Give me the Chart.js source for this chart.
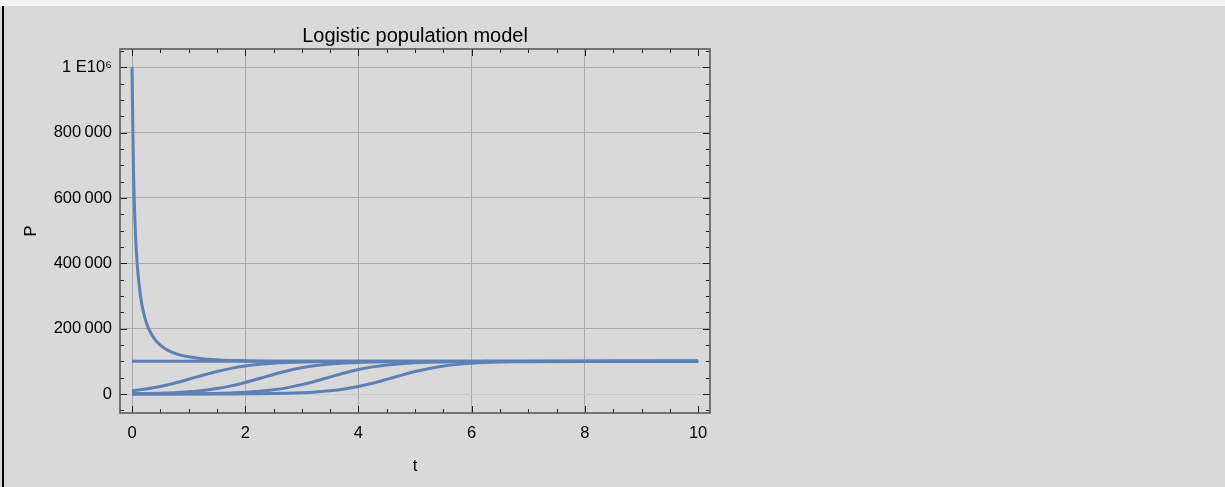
<!DOCTYPE html>
<html>
<head>
<meta charset="utf-8">
<script src="https://cdn.jsdelivr.net/npm/chart.js@4/dist/chart.umd.min.js"></script>
<style>
    body { margin: 0; background: #d9d9d9; }
    #strip { position: absolute; left: 0; top: 0; width: 1225px; height: 6px; background: #f5f5f5; }
    #edge { position: absolute; left: 2px; top: 6px; width: 2px; height: 481px; background: #000; }
    #wrap { position: absolute; left: 0; top: 0; width: 1225px; height: 487px; }
</style>
</head>
<body>
<div id="strip"></div>
<div id="edge"></div>
<div id="wrap"><canvas id="logisticChart" width="1225" height="487"></canvas></div>
<script>
const chartTitle = 'Logistic population model';
const xTitle = 't';
const yTitle = 'P';

const xTickValues = [0, 2, 4, 6, 8, 10];
const xTickLabels = ['0', '2', '4', '6', '8', '10'];
const yTickValues = [0, 200000, 400000, 600000, 800000, 1000000];
const yTickLabels = ['0', '200\u2009000', '400\u2009000', '600\u2009000', '800\u2009000', '1 E10\u2076'];

// P0 = 1e6, falls to the carrying capacity
const tDecay = [0, 0.025, 0.05, 0.075, 0.1, 0.15, 0.2, 0.25, 0.3, 0.4, 0.5, 0.6, 0.7, 0.8, 1, 1.2, 1.4, 1.6, 1.8, 2, 2.25, 2.5, 2.75, 3, 3.5, 4, 5, 10];
const pDecay = [1000000, 694950, 538660, 443730, 380020, 300060, 252070, 220210, 197600, 167900, 149500, 137190, 128520, 122210, 113870, 108890, 105790, 103810, 102520, 101680, 101010, 100610, 100370, 100220, 100080, 100030, 100000, 100000];

// P0 = K
const tCarrying = [0, 10];
const pCarrying = [100000, 100000];

// growing curves share one time grid
const tGrowth = [0, 0.25, 0.5, 0.75, 1, 1.25, 1.5, 1.75, 2, 2.25, 2.5, 2.75, 3, 3.25, 3.5, 3.75, 4, 4.25, 4.5, 4.75, 5, 5.25, 5.5, 5.75, 6, 6.25, 6.5, 6.75, 7, 8, 9, 10];
const p10000 = [10000, 15483, 23197, 33243, 45085, 57512, 69057, 78630, 85849, 90911, 94282, 96452, 97818, 98665, 99186, 99505, 99699, 99818, 99889, 99933, 99959, 99975, 99985, 99991, 99994, 99996, 99998, 99999, 99999, 100000, 100000, 100000];
const p1000 = [1000, 1638, 2672, 4331, 6945, 10957, 16866, 25066, 35546, 47624, 59986, 71194, 80294, 87048, 91719, 94810, 96790, 98030, 98797, 99264, 99552, 99728, 99835, 99900, 99939, 99963, 99978, 99986, 99992, 99999, 100000, 100000];
const p100 = [100, 165, 271, 447, 734, 1205, 1971, 3209, 5182, 8266, 12935, 19674, 28765, 39976, 52326, 64414, 74925, 83140, 89057, 93038, 95661, 97326, 98359, 99001, 99390, 99629, 99775, 99863, 99917, 99989, 99998, 100000];
const p10 = [10, 16.5, 27.2, 44.8, 73.9, 121.7, 200.5, 330.1, 543.1, 892.2, 1463, 2389, 3878, 6239, 9882, 15315, 22990, 33005, 44846, 57178, 68778, 78433, 85691, 90828, 94215, 96405, 97790, 98649, 99175, 99888, 99985, 100000];

const lineColor = '#5e81b5';
const fontFamily = '"Liberation Sans", Arial, Helvetica, sans-serif';

function toPoints(ts, ps){
    return ts.map((t, i) => ({x: t, y: ps[i]}));
}

function makeSeries(ts, ps){
    return {
        data: toPoints(ts, ps),
        borderColor: lineColor,
        borderWidth: 3,
        pointRadius: 0,
        fill: false,
        cubicInterpolationMode: 'monotone'
    };
}

// frame, inward ticks on all four sides, and the title
const framePlugin = {
    id: 'frame',
    afterDatasetsDraw(chart){
        const {ctx, chartArea: a, scales} = chart;
        const x = scales.x, y = scales.y;
        ctx.save();
        ctx.strokeStyle = '#1a1a1a';
        ctx.lineWidth = 1;
        ctx.beginPath();
        for (let v = Math.ceil(x.min / 0.5) * 0.5; v <= x.max; v += 0.5){
            const px = Math.round(x.getPixelForValue(v)) + 0.5;
            const len = Math.abs(v % 2) < 1e-9 ? 7 : 4;
            ctx.moveTo(px, a.bottom); ctx.lineTo(px, a.bottom - len);
            ctx.moveTo(px, a.top); ctx.lineTo(px, a.top + len);
        }
        for (let v = Math.ceil(y.min / 50000) * 50000; v <= y.max; v += 50000){
            const py = Math.round(y.getPixelForValue(v)) + 0.5;
            const len = v % 200000 === 0 ? 7 : 4;
            ctx.moveTo(a.left, py); ctx.lineTo(a.left + len, py);
            ctx.moveTo(a.right, py); ctx.lineTo(a.right - len, py);
        }
        ctx.stroke();

        ctx.strokeStyle = '#5a5a5a';
        ctx.lineWidth = 1.6;
        ctx.strokeRect(a.left, a.top, a.right - a.left, a.bottom - a.top);

        ctx.fillStyle = '#000';
        ctx.font = '20px ' + fontFamily;
        ctx.textAlign = 'center';
        ctx.textBaseline = 'alphabetic';
        ctx.fillText(chartTitle, (a.left + a.right) / 2, a.top - 7);
        ctx.restore();
    }
};

const config = {
    type: 'line',
    data: {
        datasets: [
            makeSeries(tDecay, pDecay),
            makeSeries(tCarrying, pCarrying),
            makeSeries(tGrowth, p10000),
            makeSeries(tGrowth, p1000),
            makeSeries(tGrowth, p100),
            makeSeries(tGrowth, p10)
        ]
    },
    options: {
        responsive: false,
        animation: false,
        layout: {
            padding: {top: 49, right: 515, bottom: 0, left: 0}
        },
        plugins: {
            legend: {display: false},
            tooltip: {enabled: false}
        },
        scales: {
            x: {
                type: 'linear',
                min: -0.212,
                max: 10.21,
                afterBuildTicks: s => { s.ticks = xTickValues.map(v => ({value: v})); },
                afterFit: s => { s.height = 74; },
                ticks: {
                    color: '#000',
                    padding: 11,
                    maxRotation: 0,
                    font: {family: fontFamily, size: 16.5},
                    callback: v => xTickLabels[xTickValues.indexOf(v)]
                },
                grid: {
                    drawTicks: false,
                    color: c => (c.tick && c.tick.value === 10) ? 'rgba(0,0,0,0)' : '#aaaaaa',
                    lineWidth: 1
                },
                border: {display: false},
                title: {
                    display: true,
                    text: xTitle,
                    color: '#000',
                    font: {family: fontFamily, size: 16.5},
                    padding: {top: 0, bottom: 11}
                }
            },
            y: {
                type: 'linear',
                min: -58000,
                max: 1056000,
                afterBuildTicks: s => { s.ticks = yTickValues.map(v => ({value: v})); },
                afterFit: s => { s.width = 120; },
                ticks: {
                    color: '#000',
                    padding: 8,
                    font: {family: fontFamily, size: 16.5},
                    callback: v => yTickLabels[yTickValues.indexOf(v)]
                },
                grid: {
                    drawTicks: false,
                    color: c => (c.tick && c.tick.value === 0) ? '#c8c8c8' : '#aaaaaa',
                    lineWidth: 1
                },
                border: {display: false},
                title: {
                    display: true,
                    text: yTitle,
                    color: '#000',
                    font: {family: fontFamily, size: 16.5},
                    padding: {top: 22, bottom: 0}
                }
            }
        }
    },
    plugins: [framePlugin]
};

const ctx = document.getElementById('logisticChart').getContext('2d');
const logisticChart = new Chart(ctx, config);
</script>
</body>
</html>
